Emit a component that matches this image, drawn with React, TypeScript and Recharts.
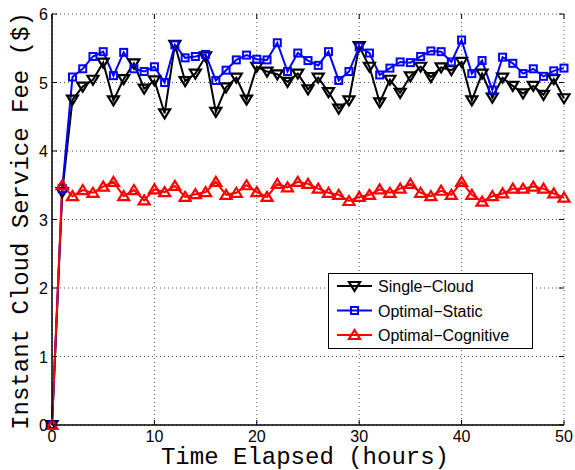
import { CartesianGrid, Line, LineChart, XAxis, YAxis } from "recharts";

// Instant cloud service fee over time, three strategies.
const hours = [
  0, 1, 2, 3, 4, 5, 6, 7, 8, 9, 10, 11, 12, 13, 14, 15, 16, 17, 18, 19, 20, 21, 22, 23, 24, 25,
  26, 27, 28, 29, 30, 31, 32, 33, 34, 35, 36, 37, 38, 39, 40, 41, 42, 43, 44, 45, 46, 47, 48, 49, 50,
];
const singleCloud = [
  0, 3.4, 4.75, 4.94, 5.04, 5.29, 4.74, 5.05, 5.28, 4.91, 5.03, 4.55, 5.55, 5.02, 5.13, 5.38, 4.57,
  4.93, 5.07, 4.75, 5.23, 5.16, 5.12, 5.01, 5.13, 4.9, 5.07, 4.86, 4.62, 4.74, 5.53, 5.23, 4.71, 5.04,
  4.85, 5.09, 5.23, 5.08, 5.22, 5.18, 5.3, 4.74, 5.13, 4.78, 5.07, 4.95, 4.84, 4.95, 4.82, 5.05, 4.77,
];
const optimalStatic = [
  0, 3.45, 5.08, 5.2, 5.38, 5.45, 5.1, 5.44, 5.2, 5.16, 5.23, 5.0, 5.55, 5.36, 5.38, 5.41, 5.03,
  5.18, 5.33, 5.4, 5.34, 5.33, 5.58, 5.16, 5.43, 5.32, 5.25, 5.45, 5.03, 5.16, 5.52, 5.43, 5.11, 5.21,
  5.3, 5.29, 5.38, 5.46, 5.45, 5.3, 5.62, 5.13, 5.32, 4.89, 5.37, 5.28, 5.13, 5.2, 5.09, 5.17, 5.21,
];
const optimalCognitive = [
  0, 3.5, 3.34, 3.43, 3.39, 3.48, 3.55, 3.34, 3.43, 3.28, 3.44, 3.4, 3.49, 3.33, 3.37, 3.4, 3.55,
  3.36, 3.39, 3.5, 3.4, 3.33, 3.52, 3.47, 3.55, 3.52, 3.45, 3.39, 3.36, 3.27, 3.33, 3.36, 3.44, 3.39,
  3.45, 3.52, 3.39, 3.34, 3.42, 3.36, 3.55, 3.36, 3.26, 3.34, 3.38, 3.45, 3.45, 3.48, 3.45, 3.38, 3.32,
];
const xTicks = [0, 10, 20, 30, 40, 50];
const yTicks = [0, 1, 2, 3, 4, 5, 6];

const data = hours.map((h, i) => ({
  h,
  single: singleCloud[i],
  stat: optimalStatic[i],
  cog: optimalCognitive[i],
}));

const W = 575;
const H = 470;
const PLOT = { left: 52, right: 564, top: 14, bottom: 425 };
const TICK_FONT = "'Liberation Sans', Arial, sans-serif";
const MONO = "'Liberation Mono', 'Courier New', monospace";

function DownTri({ cx, cy, color = "#000" }: any) {
  if (cx == null || cy == null) return null;
  return (
    <polygon
      points={`${cx - 5.5},${cy - 4} ${cx + 5.5},${cy - 4} ${cx},${cy + 5}`}
      fill="none"
      stroke={color}
      strokeWidth={2.2}
    />
  );
}

function UpTri({ cx, cy, color = "#ff0000" }: any) {
  if (cx == null || cy == null) return null;
  return (
    <polygon
      points={`${cx - 5.5},${cy + 4} ${cx + 5.5},${cy + 4} ${cx},${cy - 5}`}
      fill="none"
      stroke={color}
      strokeWidth={2.2}
    />
  );
}

function Square({ cx, cy, color = "#0000ff" }: any) {
  if (cx == null || cy == null) return null;
  return <rect x={cx - 3.5} y={cy - 3.5} width={7} height={7} fill="none" stroke={color} strokeWidth={2} />;
}

function XTick({ x, y, payload }: any) {
  return (
    <g>
      <line x1={x} x2={x} y1={PLOT.bottom} y2={PLOT.bottom - 5} stroke="#000" />
      <line x1={x} x2={x} y1={PLOT.top} y2={PLOT.top + 5} stroke="#000" />
      <text x={x} y={y + 9} textAnchor="middle" fontFamily={TICK_FONT} fontSize={16} fill="#000">
        {payload.value}
      </text>
    </g>
  );
}

function YTick({ y, payload }: any) {
  return (
    <g>
      <line x1={PLOT.left} x2={PLOT.left + 5} y1={y} y2={y} stroke="#000" />
      <line x1={PLOT.right} x2={PLOT.right - 5} y1={y} y2={y} stroke="#000" />
      <text x={48} y={y + 6} textAnchor="end" fontFamily={TICK_FONT} fontSize={16} fill="#000">
        {payload.value}
      </text>
    </g>
  );
}

const legendItems = [
  { name: "Single\u2212Cloud", color: "#000", Marker: DownTri },
  { name: "Optimal\u2212Static", color: "#0000ff", Marker: Square },
  { name: "Optimal\u2212Cognitive", color: "#ff0000", Marker: UpTri },
];

function LegendBox() {
  return (
    <svg width={205} height={76} style={{ display: "block" }}>
      <rect x={0.5} y={0.5} width={204} height={75} fill="#fff" stroke="#000" />
      {legendItems.map((it, i) => {
        const cy = 13 + i * 24.5;
        const M = it.Marker;
        return (
          <g key={it.name}>
            <line x1={9} x2={44} y1={cy} y2={cy} stroke={it.color} strokeWidth={2} />
            <M cx={26.5} cy={cy} color={it.color} />
            <text x={50} y={cy + 6} fontFamily={TICK_FONT} fontSize={16} fill="#000">
              {it.name}
            </text>
          </g>
        );
      })}
    </svg>
  );
}

export default function App() {
  return (
    <div style={{ position: "absolute", left: 0, top: 0, width: W, height: H, background: "#fff" }}>
      <LineChart
        width={W}
        height={H}
        data={data}
        margin={{ top: PLOT.top, right: W - PLOT.right, bottom: 0, left: 0 }}
      >
        <CartesianGrid
          stroke="#555"
          strokeDasharray="1 3"
          horizontalValues={yTicks}
          verticalValues={xTicks}
        />
        <XAxis
          dataKey="h"
          type="number"
          domain={[0, 50]}
          ticks={xTicks}
          height={H - PLOT.bottom}
          tickLine={false}
          axisLine={{ stroke: "#000", strokeWidth: 1.5 }}
          tick={<XTick />}
          interval={0}
        />
        <YAxis
          type="number"
          domain={[0, 6]}
          ticks={yTicks}
          width={PLOT.left}
          tickLine={false}
          axisLine={{ stroke: "#000", strokeWidth: 1.5 }}
          tick={<YTick />}
          interval={0}
        />
        <XAxis xAxisId="top" orientation="top" dataKey="h" type="number" domain={[0, 50]} height={0} tick={false} tickLine={false} axisLine={{ stroke: "#000", strokeWidth: 1.5 }} />
        <YAxis yAxisId="right" orientation="right" domain={[0, 6]} width={0} tick={false} tickLine={false} axisLine={{ stroke: "#000", strokeWidth: 1.5 }} />
        <Line
          dataKey="single"
          stroke="#000"
          strokeWidth={2}
          dot={<DownTri color="#000" />}
          activeDot={false}
          isAnimationActive={false}
        />
        <Line
          dataKey="stat"
          stroke="#0000ff"
          strokeWidth={2}
          dot={<Square color="#0000ff" />}
          activeDot={false}
          isAnimationActive={false}
        />
        <Line
          dataKey="cog"
          stroke="#ff0000"
          strokeWidth={2}
          dot={<UpTri color="#ff0000" />}
          activeDot={false}
          isAnimationActive={false}
        />
      </LineChart>
      <div style={{ position: "absolute", left: 328, top: 273 }}>
        <LegendBox />
      </div>
      <div
        style={{
          position: "absolute",
          left: 0,
          top: 444,
          width: 610,
          textAlign: "center",
          fontFamily: MONO,
          fontSize: 24,
          lineHeight: "28px",
          color: "#000",
        }}
      >
        Time Elapsed (hours)
      </div>
      <div
        style={{
          position: "absolute",
          left: 22,
          top: 221,
          transform: "translate(-50%, -50%) rotate(-90deg)",
          whiteSpace: "nowrap",
          fontFamily: MONO,
          fontSize: 24,
          lineHeight: "28px",
          color: "#000",
        }}
      >
        Instant Cloud Service Fee ($)
      </div>
    </div>
  );
}
